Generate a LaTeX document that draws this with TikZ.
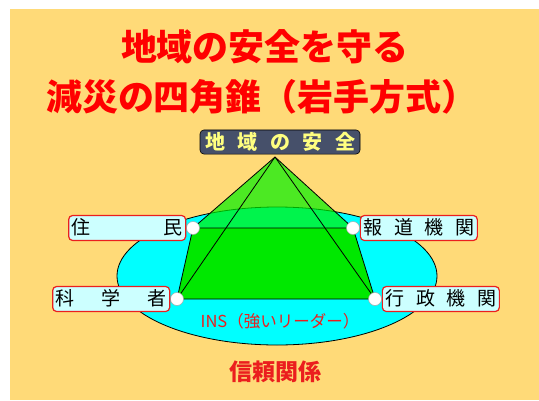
\documentclass[tikz,border=0pt]{standalone}
\usepackage{fontspec}
\newfontfamily\jp{Noto Sans CJK JP}
\definecolor{paper}{RGB}{255,218,120}
\definecolor{pond}{RGB}{0,255,255}
\definecolor{leaf}{RGB}{0,232,0}
\definecolor{facegreen}{RGB}{0,240,0}
\definecolor{slate}{RGB}{70,80,106}
\definecolor{lemon}{RGB}{255,255,128}
\definecolor{tagfill}{RGB}{204,255,255}
\definecolor{tagred}{RGB}{235,30,30}
\newcommand{\spreadlabel}[2]{\makebox[#1]{#2}}
\begin{document}
\begin{tikzpicture}[x=1pt,y=-1pt,
  title/.style={text=red,font=\jp\bfseries\fontsize{36}{40}\selectfont,inner sep=0},
  tag/.style={draw=tagred,line width=1.2pt,fill=tagfill,rounded corners=4pt,
    font=\jp\fontsize{19}{22}\selectfont,inner xsep=3pt,inner ysep=3.5pt,
    text height=15pt,text depth=3pt,text=black},
  apextag/.style={draw=black,line width=0.6pt,fill=slate,rounded corners=4pt,
    font=\jp\bfseries\fontsize{20}{24}\selectfont,text=lemon,inner xsep=5pt,inner ysep=2.5pt},
  corner/.style={circle,fill=white,draw=gray!70,line width=0.5pt,minimum size=13pt,inner sep=0},
  edge/.style={draw=black,line width=0.8pt,line join=round},
  redtext/.style={text=tagred,inner sep=0}]
  % canvas
  \useasboundingbox (0,0) rectangle (539,400);
  \fill[white] (0,0) rectangle (539,400);
  \fill[paper] (10,9) rectangle (539,400);

  % heading
  \node[title] (t1) at (265,47) {地域の安全を守る};
  \node[title] (t2) at (262,97) {減災の四角錐（岩手方式）};

  % trust ring
  \draw[fill=pond,line width=0.8pt] (277,276) ellipse [x radius=160, y radius=69];
  \node[redtext,font=\jp\fontsize{16.5}{19}\selectfont] (ins) at (280,321) {INS（強いリーダー）};
  \node[redtext,font=\jp\bfseries\fontsize{23}{26}\selectfont] (trust) at (275,372) {信頼関係};

  % pyramid apex label
  \node[apextag] (apex) at (280,142) {\spreadlabel{150pt}{地\hfill 域\hfill の\hfill 安\hfill 全}};

  % base corners
  \coordinate (bl) at (193,228);
  \coordinate (br) at (353,228);
  \coordinate (fl) at (177,299);
  \coordinate (fr) at (375,299);
  \coordinate (top) at (275,157);

  % pyramid faces
  \fill[facegreen,fill opacity=0.7] (top) -- (bl) -- (br) -- cycle;
  \fill[leaf] (bl) -- (br) -- (fr) -- (fl) -- cycle;

  % pyramid edges
  \draw[edge] (top) -- (bl);
  \draw[edge] (top) -- (br);
  \draw[edge] (top) -- (fl);
  \draw[edge] (top) -- (fr);
  \draw[edge] (bl) -- (br) -- (fr) -- (fl) -- cycle;

  % corner markers
  \node[corner] (cbl) at (bl) {};
  \node[corner] (cbr) at (br) {};
  \node[corner] (cfl) at (fl) {};
  \node[corner] (cfr) at (fr) {};

  % stakeholder tags
  \node[tag,anchor=east] (jumin) at (cbl.west) {\spreadlabel{111pt}{住\hfill 民}};
  \node[tag,anchor=east] (kagaku) at (cfl.west) {\spreadlabel{111pt}{科\hfill 学\hfill 者}};
  \node[tag,anchor=west] (houdou) at (cbr.east) {\spreadlabel{111pt}{報\hfill 道\hfill 機\hfill 関}};
  \node[tag,anchor=west] (gyousei) at (cfr.east) {\spreadlabel{111pt}{行\hfill 政\hfill 機\hfill 関}};
\end{tikzpicture}
\end{document}
